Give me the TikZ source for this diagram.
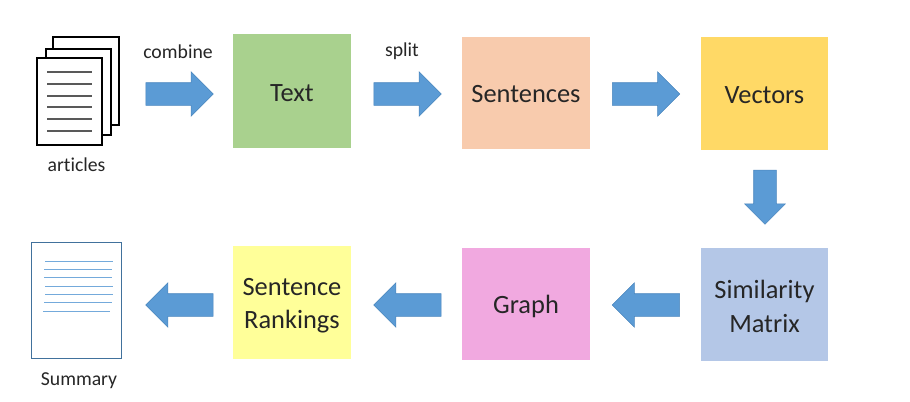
\documentclass[tikz,border=0pt]{standalone}
\usepackage{fontspec}
\setmainfont[RawFeature={-liga}]{Carlito}
\usetikzlibrary{shapes.arrows}
\definecolor{arrowblue}{HTML}{5B9BD5}
\definecolor{arrowedge}{HTML}{4A86BE}
\definecolor{txt}{HTML}{262626}
\definecolor{sumedge}{HTML}{41719C}
\tikzset{
  x=0.75pt,y=-0.75pt,
  box/.style={draw=none,inner sep=0pt,minimum width=#1*0.75pt},
  every label/.style={inner sep=0pt,align=center,text=txt,font=\fontsize{19.8pt}{25pt}\selectfont},
  lab/.style={inner sep=0pt,text=txt,font=\fontsize{14.8pt}{17pt}\selectfont},
  blockarrow/.style={single arrow,fill=arrowblue,draw=arrowedge,line width=0.4pt,inner sep=0pt,
    single arrow head indent=0pt,single arrow head extend=8.25pt,
    minimum width=33pt,minimum height=50.5pt,anchor=center},
  page/.style={draw=black,fill=white,line width=1.7pt},
  pageline/.style={draw=black!65,line width=1.2pt},
  sumline/.style={draw=arrowblue!85,line width=0.65pt}
}
\newcommand{\shaft}{\rule{0pt}{16.5pt}}
\begin{document}
\begin{tikzpicture}
\useasboundingbox (0,0) rectangle (910,401);
\fill[fill=white] (0,0) rectangle (910,401);
% boxes
\node[box=118,minimum height=85.5pt,fill={rgb,255:red,169;green,209;blue,142},label={[yshift=-1.5pt]center:Text}] (text) at (292,91) {};
\node[box=128,minimum height=84pt,fill={rgb,255:red,248;green,203;blue,173},label={[yshift=-1.1pt]center:Sentences}] (sent) at (526,93) {};
\node[box=127,minimum height=84.75pt,fill={rgb,255:red,255;green,217;blue,102},label={[yshift=-1.5pt]center:Vectors}] (vec) at (764.5,93.5) {};
\node[box=127,minimum height=84.75pt,fill={rgb,255:red,180;green,199;blue,231},label={[yshift=-1.5pt]center:Similarity\\Matrix}] (sim) at (764.5,304.5) {};
\node[box=128,minimum height=84pt,fill={rgb,255:red,241;green,169;blue,224},label={[yshift=-1.5pt]center:Graph}] (graph) at (526,304) {};
\node[box=118,minimum height=84.75pt,fill={rgb,255:red,255;green,255;blue,153},label={[yshift=-2.2pt]center:Sentence\\Rankings}] (rank) at (292,302.5) {};
% arrows
\node[blockarrow] (a1) at (174,94) {\shaft};
\node[blockarrow] (a2) at (402,94) {\shaft};
\node[blockarrow] (a3) at (640.5,94) {\shaft};
\node[blockarrow,minimum width=30pt,minimum height=40.5pt,single arrow head extend=6.75pt,rotate=-90] (a4) at (765,191.5) {\shaft};
\node[blockarrow,rotate=180] (a5) at (651.5,305) {\shaft};
\node[blockarrow,rotate=180] (a6) at (413,305) {\shaft};
\node[blockarrow,rotate=180] (a7) at (185,305) {\shaft};
% articles icon
\draw[page] (53,37) rectangle (119,125);
\draw[page] (46,49) rectangle (111,135);
\draw[page] (37,58) rectangle (102,145);
\foreach \y in {72,84,96,107,119,131} \draw[pageline] (47,\y) -- (92,\y);
% summary icon
\draw[draw=sumedge,fill=white,line width=0.7pt] (31,242) rectangle (121,358);
\draw[sumline] (45,261) -- (113,261);
\draw[sumline] (44,269) -- (112,269);
\draw[sumline] (44,277) -- (112,277);
\draw[sumline] (45,286) -- (113,286);
\draw[sumline] (45,294) -- (113,294);
\draw[sumline] (44,302) -- (112,302);
\draw[sumline] (43,311) -- (110,311);
% labels
\node[lab] (combine) at (178,52) {combine};
\node[lab] (split) at (402,51) {split};
\node[lab] (articles) at (76.5,165) {articles};
\node[lab] (summary) at (79,381) {Summary};
\end{tikzpicture}
\end{document}
